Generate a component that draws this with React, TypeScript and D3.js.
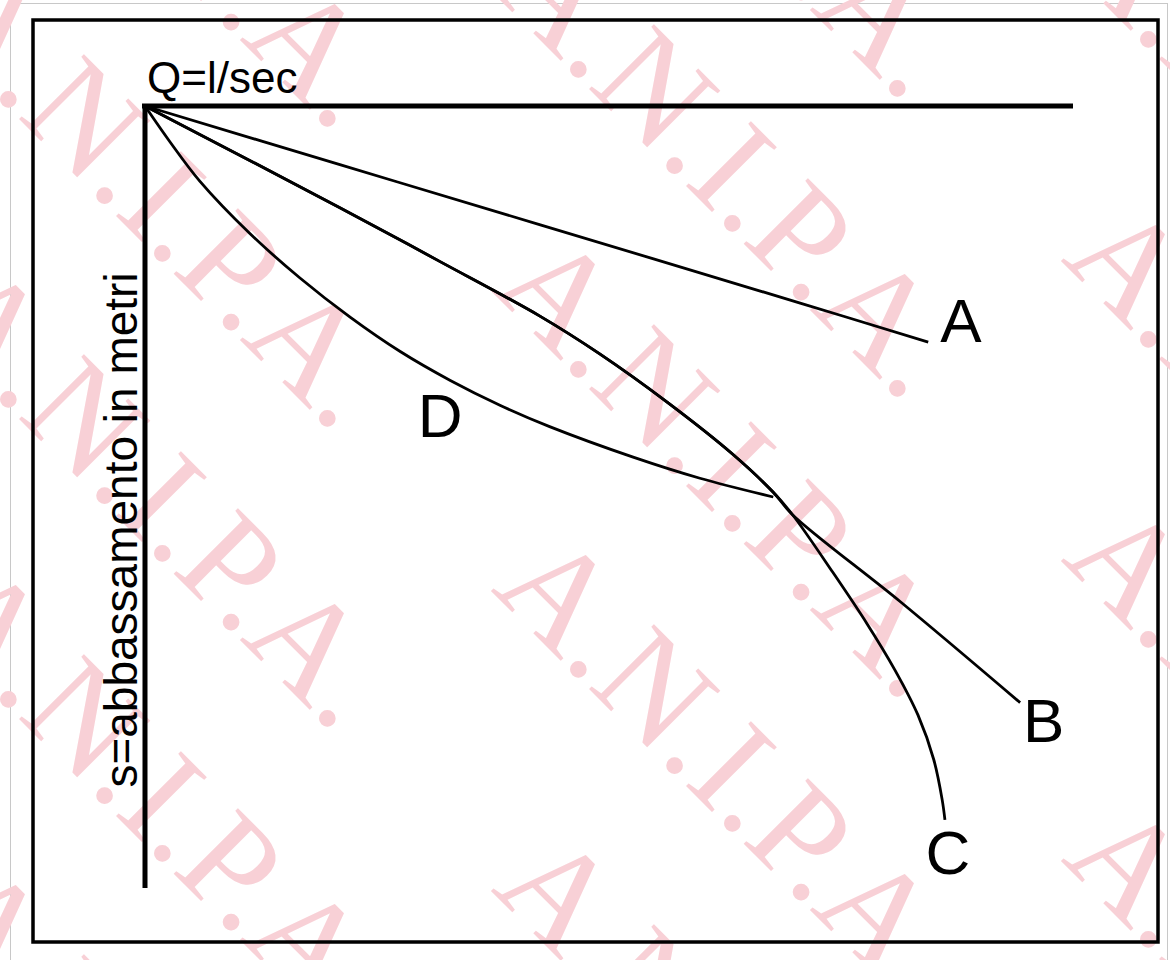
import React, { useRef, useEffect } from "react";
import * as d3 from "d3";

// Q (l/sec) and s (m) in arbitrary chart units
const Q_DOMAIN: [number, number] = [0, 100];
const S_DOMAIN: [number, number] = [0, 100];

const curveA: [number, number][] = [
  [0, 0], [21.0, 7.5], [42.6, 15.2], [70.6, 25.2], [84.4, 30.2],
];
const curveB: [number, number][] = [
  [0, 0], [21.0, 13.0], [31.8, 19.9], [42.6, 26.9], [49.0, 31.7], [56.3, 37.9],
  [63.4, 44.6], [67.7, 49.4], [69.8, 52.3], [81.4, 63.4], [94.3, 76.3],
];
const curveC: [number, number][] = [
  [0, 0], [21.0, 13.0], [31.8, 19.9], [42.6, 26.9], [49.0, 31.7], [56.3, 37.9],
  [63.4, 44.6], [67.7, 49.4], [69.8, 52.3], [74.1, 59.6], [77.8, 66.2],
  [80.8, 72.1], [83.3, 77.9], [85.0, 83.6], [85.9, 88.7], [86.2, 91.3],
];
const curveD: [number, number][] = [
  [0, 0], [2.7, 4.6], [5.9, 9.6], [11.3, 16.3], [16.7, 22.0], [22.1, 27.0],
  [27.5, 31.4], [32.9, 35.1], [38.3, 38.3], [43.6, 41.0], [52.6, 44.9],
  [59.8, 47.6], [67.7, 50.0],
];
const seriesNames = ["A", "B", "C", "D"];
const seriesData = [curveA, curveB, curveC, curveD];
// label anchor in data units
const labelPos: [number, number][] = [
  [85.7, 30.2], [94.6, 81.3], [84.1, 98.2], [29.4, 42.3],
];
const xTitle = "Q=l/sec";
const yTitle = "s=abbassamento in metri";
const watermark = "A.N.I.P.A.";

export default function App() {
  const ref = useRef<SVGSVGElement>(null);
  useEffect(() => {
    const svg = d3.select(ref.current);
    svg.selectAll("*").remove();
    const W = 1170, H = 960;
    const x = d3.scaleLinear().domain(Q_DOMAIN).range([145, 1073]);
    const y = d3.scaleLinear().domain(S_DOMAIN).range([106, 888]);

    svg.append("rect").attr("width", W).attr("height", H).attr("fill", "#fff");
    // outer gray frame
    svg.append("rect").attr("x", 10.5).attr("y", 3.5).attr("width", 1157).attr("height", 970)
      .attr("fill", "none").attr("stroke", "#c8c8c8").attr("stroke-width", 1);

    // watermark
    const wm = svg.append("g");
    for (let i = -3; i <= 3; i++) {
      for (let j = -6; j <= 6; j++) {
        const px = 490 + i * 570;
        const py = 290 + i * 570 + j * 300;
        if (px > W + 50 || px < -700 || py > H + 50 || py < -700) continue;
        wm.append("text")
          .attr("transform", `translate(${px},${py}) rotate(45)`)
          .attr("font-family", "'Liberation Serif', 'Times New Roman', serif")
          .attr("font-size", 140)
          .attr("fill", "#f8d0d6")
          .text(watermark);
      }
    }

    // black border
    svg.append("rect").attr("x", 33).attr("y", 20).attr("width", 1125).attr("height", 922)
      .attr("fill", "none").attr("stroke", "#000").attr("stroke-width", 3.5);

    // axes
    svg.append("line")
      .attr("x1", x(Q_DOMAIN[0]) - 3).attr("x2", x(Q_DOMAIN[1]))
      .attr("y1", y(0)).attr("y2", y(0))
      .attr("stroke", "#000").attr("stroke-width", 5);
    svg.append("line")
      .attr("x1", x(0)).attr("x2", x(0))
      .attr("y1", y(S_DOMAIN[0]) - 2).attr("y2", y(S_DOMAIN[1]))
      .attr("stroke", "#000").attr("stroke-width", 5);

    const line = d3.line<[number, number]>()
      .x((d) => x(d[0])).y((d) => y(d[1]))
      .curve(d3.curveCatmullRom.alpha(0.5));
    seriesData.forEach((data) => {
      svg.append("path").attr("d", line(data) as string)
        .attr("fill", "none").attr("stroke", "#000").attr("stroke-width", 2.8)
        .attr("stroke-linecap", "butt").attr("stroke-linejoin", "round");
    });

    const sans = "'Liberation Sans', Arial, Helvetica, sans-serif";
    seriesNames.forEach((n, i) => {
      svg.append("text")
        .attr("x", x(labelPos[i][0])).attr("y", y(labelPos[i][1]))
        .attr("font-family", sans).attr("font-size", 62).attr("fill", "#000")
        .text(n);
    });

    svg.append("text").attr("x", 147).attr("y", 93)
      .attr("font-family", sans).attr("font-size", 44).attr("fill", "#000")
      .text(xTitle);
    svg.append("text")
      .attr("transform", `translate(137,530) rotate(-90)`)
      .attr("text-anchor", "middle")
      .attr("font-family", sans).attr("font-size", 46).attr("fill", "#000")
      .text(yTitle);
  }, []);
  return (
    <svg ref={ref} width={1170} height={960}
      style={{ position: "absolute", left: 0, top: 0, display: "block" }} />
  );
}
